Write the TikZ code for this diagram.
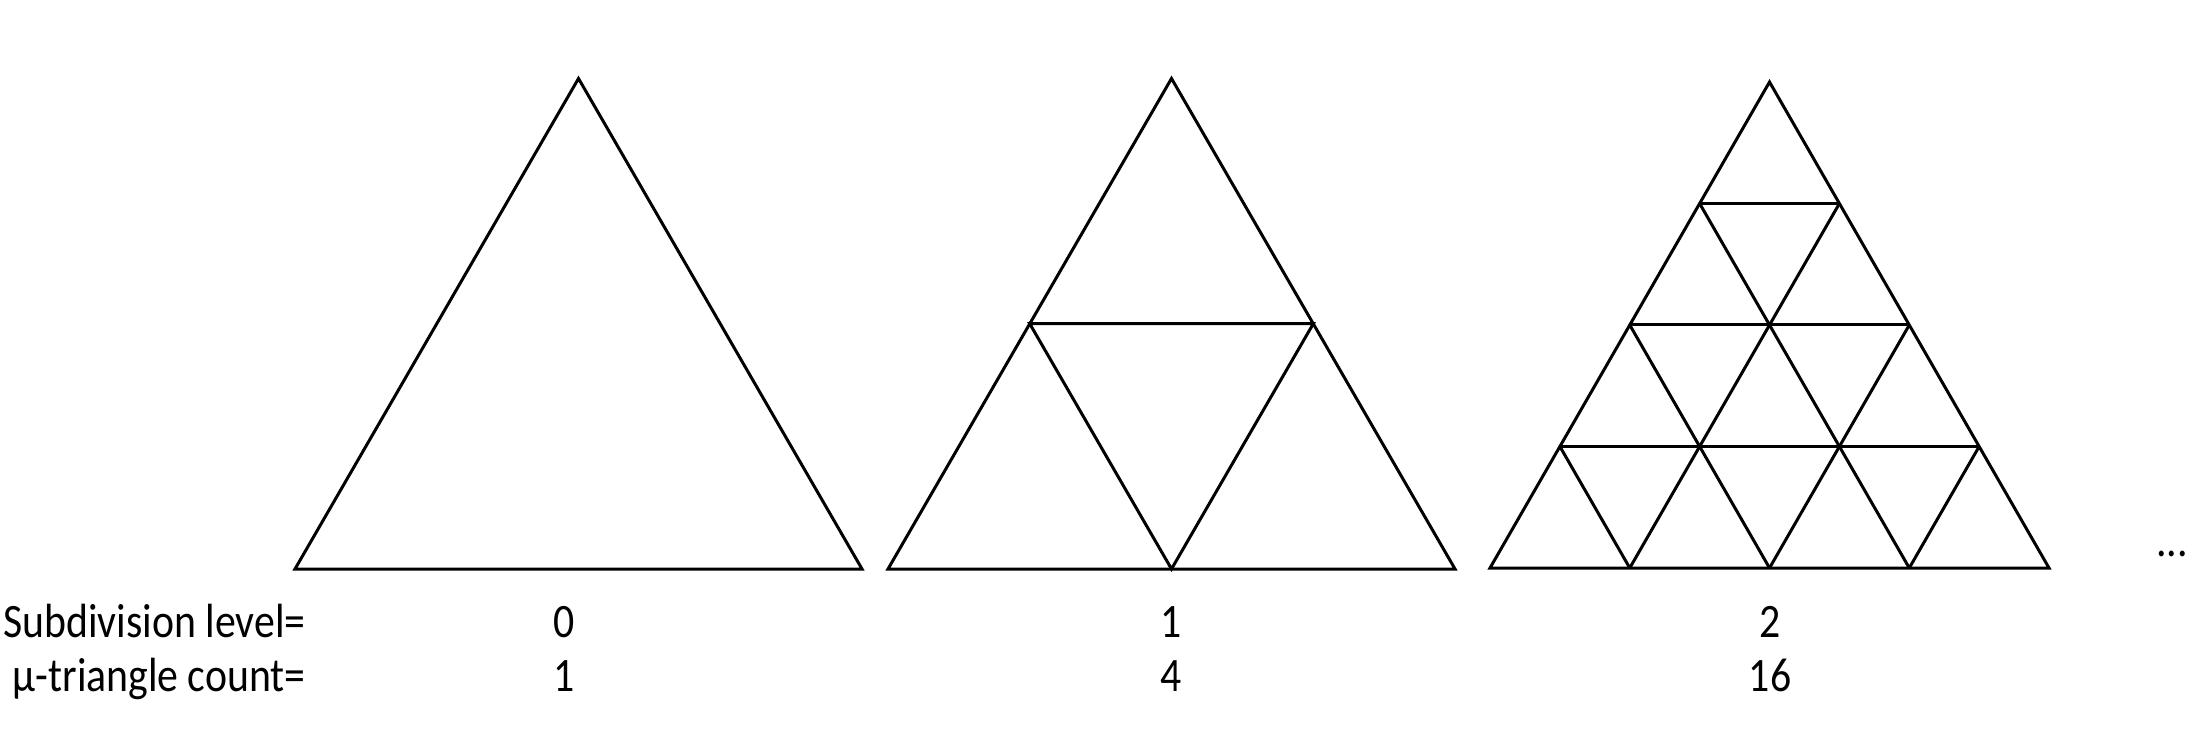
\documentclass[tikz,border=0pt]{standalone}
\usepackage{fontspec}
\setmainfont{Carlito}
\newfontfamily\lblfont[FakeStretch=0.87]{Carlito}
\usetikzlibrary{calc}
\begin{document}
\begin{tikzpicture}[x=0.5pt,y=-0.5pt,
  edge/.style={draw=black,line width=1.5pt,line join=miter},
  lbl/.style={inner sep=0pt,font=\lblfont\fontsize{24pt}{28pt}\selectfont}]
\useasboundingbox (0,0) rectangle (2209,731);
% level 0
\coordinate (A1) at (578.5,78.5);
\coordinate (B1) at (295,569);
\coordinate (C1) at (862,569);
\draw[edge] (A1) -- (B1) -- (C1) -- cycle;
% level 1
\coordinate (A2) at (1171.5,78.5);
\coordinate (B2) at (888,569);
\coordinate (C2) at (1455,569);
\draw[edge] (A2) -- (B2) -- (C2) -- cycle;
\coordinate (M2l) at ($(A2)!0.5!(B2)$);
\coordinate (M2r) at ($(A2)!0.5!(C2)$);
\coordinate (M2b) at ($(B2)!0.5!(C2)$);
\draw[edge] (M2l) -- (M2r) -- (M2b) -- cycle;
% level 2
\coordinate (A3) at (1769.5,82);
\coordinate (B3) at (1490,568);
\coordinate (C3) at (2049,568);
\draw[edge] (A3) -- (B3) -- (C3) -- cycle;
\foreach \k/\fa/\fb in {1/0.25/0.75,2/0.5/0.5,3/0.75/0.25}{
  \coordinate (L\k) at ($(B3)!\fa!(A3)$);
  \coordinate (R\k) at ($(C3)!\fa!(A3)$);
  \coordinate (D\k) at ($(B3)!\fa!(C3)$);
  \coordinate (Q\k) at ($(C3)!\fb!(A3)$);
  \draw[edge] (L\k) -- (R\k);
  \draw[edge] (D\k) -- (Q\k);
  \draw[edge] (D\k) -- (L\k);
}
% labels
\node[lbl,anchor=base east] (lev) at (306,637) {Subdivision level=};
\node[lbl,anchor=base east] (cnt) at (306,691) {μ-triangle count=};
\node[lbl,anchor=base] (l0) at (564,637) {0};
\node[lbl,anchor=base] (c0) at (564,691) {1};
\node[lbl,anchor=base] (l1) at (1171,637) {1};
\node[lbl,anchor=base] (c1) at (1171,691) {4};
\node[lbl,anchor=base] (l2) at (1770,637) {2};
\node[lbl,anchor=base] (c2) at (1770,691) {16};
\node[lbl,anchor=base] (dots) at (2172,556) {...};
\end{tikzpicture}
\end{document}
